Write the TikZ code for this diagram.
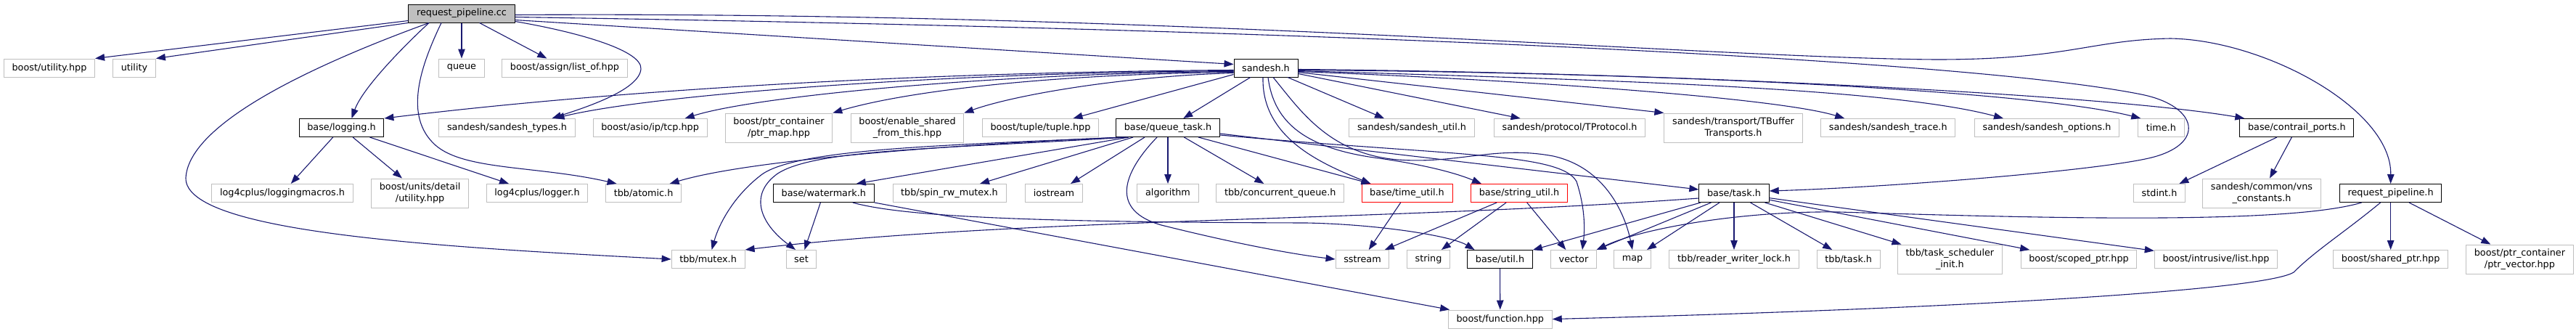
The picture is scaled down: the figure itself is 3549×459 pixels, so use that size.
\documentclass[tikz,border=0pt]{standalone}
\usepackage{fontspec}
\setmainfont{DejaVu Sans}
\usetikzlibrary{arrows.meta}
\definecolor{edgec}{RGB}{25,25,112}
\definecolor{extgray}{RGB}{191,191,191}
\definecolor{rootfill}{RGB}{191,191,191}
\definecolor{truncred}{RGB}{255,0,0}
\newcommand\dxfont{\fontsize{12.8}{16}\selectfont}
\tikzset{
  box/.style={draw=extgray, fill=white, line width=1pt, font=\dxfont, inner xsep=11.2pt, inner ysep=0pt, minimum height=25pt, align=center},
  ext/.style={box},
  doc/.style={box, draw=black},
  trunc/.style={box, draw=truncred},
  root/.style={box, draw=black, fill=rootfill},
  two/.style={minimum height=40pt},
  edge/.style={draw=edgec, line width=1.1pt, -{Triangle[length=13pt,width=9.5pt]}}
}
\begin{document}
\begin{tikzpicture}[x=1pt,y=-1pt]
\useasboundingbox (0,0) rectangle (3549,459);
% row 0
\node[root] (rpcc) at (636,18.5) {request\_pipeline.cc};
% row 1
\node[ext] (butil) at (68,93.5) {boost/utility.hpp};
\node[ext] (util) at (185,93.5) {utility};
\node[ext] (queue) at (636,93.5) {queue};
\node[ext] (listof) at (778,93.5) {boost/assign/list\_of.hpp};
\node[doc] (sandesh) at (1744,93.5) {sandesh.h};
% row 2
\node[doc] (logging) at (470.5,176) {base/logging.h};
\node[ext] (stypes) at (698.5,176) {sandesh/sandesh\_types.h};
\node[ext] (tcp) at (895.6,176) {boost/asio/ip/tcp.hpp};
\node[ext,two] (ptrmap) at (1073,176) {boost/ptr\_container\\/ptr\_map.hpp};
\node[ext,two] (esft) at (1250,176) {boost/enable\_shared\\\_from\_this.hpp};
\node[ext] (tuple) at (1433.5,176) {boost/tuple/tuple.hpp};
\node[doc] (qtask) at (1609,176) {base/queue\_task.h};
\node[ext] (sutil) at (1945,176) {sandesh/sandesh\_util.h};
\node[ext] (tproto) at (2162.6,176) {sandesh/protocol/TProtocol.h};
\node[ext,two] (tbuf) at (2388,176) {sandesh/transport/TBuffer\\Transports.h};
\node[ext] (strace) at (2601.2,176) {sandesh/sandesh\_trace.h};
\node[ext] (sopts) at (2820,176) {sandesh/sandesh\_options.h};
\node[ext] (timeh) at (2977.3,176) {time.h};
\node[doc] (cports) at (3164.3,176) {base/contrail\_ports.h};
% row 3
\node[ext] (lmacros) at (389,266) {log4cplus/loggingmacros.h};
\node[ext,two] (budetail) at (578.6,266) {boost/units/detail\\/utility.hpp};
\node[ext] (logger) at (740,266) {log4cplus/logger.h};
\node[ext] (atomic) at (886.6,266) {tbb/atomic.h};
\node[doc] (watermark) at (1134.8,266) {base/watermark.h};
\node[ext] (spinrw) at (1308,266) {tbb/spin\_rw\_mutex.h};
\node[ext] (iostream) at (1452,266) {iostream};
\node[ext] (algorithm) at (1609,266) {algorithm};
\node[ext] (cqueue) at (1763.7,266) {tbb/concurrent\_queue.h};
\node[trunc] (timeutil) at (1938.5,266) {base/time\_util.h};
\node[trunc] (strutil) at (2093,266) {base/string\_util.h};
\node[doc] (btask) at (2389,266) {base/task.h};
\node[ext] (stdint) at (2975,266) {stdint.h};
\node[ext,two] (vnsconst) at (3116,266) {sandesh/common/vns\\\_constants.h};
\node[doc] (rph) at (3293.6,266) {request\_pipeline.h};
% row 4
\node[ext] (mutex) at (975.6,357) {tbb/mutex.h};
\node[ext] (nset) at (1104,357) {set};
\node[ext] (sstream) at (1877,357) {sstream};
\node[ext] (nstring) at (1968,357) {string};
\node[doc] (butilh) at (2066.5,357) {base/util.h};
\node[ext] (nvector) at (2168,357) {vector};
\node[ext] (nmap) at (2249,357) {map};
\node[ext] (rwlock) at (2389,357) {tbb/reader\_writer\_lock.h};
\node[ext] (ttask) at (2546.7,357) {tbb/task.h};
\node[ext,two] (tsinit) at (2686.4,357) {tbb/task\_scheduler\\\_init.h};
\node[ext] (scoped) at (2864,357) {boost/scoped\_ptr.hpp};
\node[ext] (intrus) at (3053,357) {boost/intrusive/list.hpp};
\node[ext] (shptr) at (3293.6,357) {boost/shared\_ptr.hpp};
\node[ext,two] (ptrvec) at (3471.4,357) {boost/ptr\_container\\/ptr\_vector.hpp};
% row 5
\node[ext] (bfunc) at (2066.8,439.5) {boost/function.hpp};

% ---- edges from request_pipeline.cc
\draw[edge] ([yshift=-10pt]rpcc.west) -- (butil.north east);
\draw[edge] (rpcc.south west) -- (util.north east);
\draw[edge] (rpcc) -- (queue);
\draw[edge] (rpcc) -- (listof);
\draw[edge] ([xshift=-45pt]rpcc.south) .. controls (560,60) and (500,120) .. ([xshift=14pt]logging.north);
\draw[edge] ([xshift=-45pt]rpcc.south) .. controls (430,90) and (260,170) .. (256,245) .. controls (254,320) and (600,340) .. (mutex.west);
\draw[edge] ([xshift=-28pt]rpcc.south) .. controls (580,90) and (555,160) .. (600,200) .. controls (640,235) and (740,228) .. ([xshift=-37pt]atomic.north);
\draw[edge] ([yshift=2pt]rpcc.south east) .. controls (800,45) and (885,70) .. (883,95) .. controls (881,125) and (800,150) .. ([xshift=62pt]stypes.north);
\draw[edge] ([yshift=-9pt]rpcc.east) -- ([yshift=5pt]sandesh.west);
\draw[edge] ([yshift=-2pt]rpcc.east) .. controls (1600,15) and (2350,80) .. (2668,82) .. controls (2850,82) and (2880,55) .. (2990,53) .. controls (3120,55) and (3295,150) .. (rph.north);
\draw[edge] ([yshift=-5pt]rpcc.east) .. controls (1800,40) and (2700,80) .. (2950,130) .. controls (3030,146) and (3040,200) .. (2960,218) .. controls (2880,236) and (2600,258) .. ([yshift=3pt]btask.east);

% ---- edges from sandesh.h
\draw[edge] ([yshift=-3pt]sandesh.west) .. controls (1200,100) and (800,130) .. (logging.north east);
\draw[edge] ([yshift=-4pt]sandesh.west) .. controls (1300,100) and (900,130) .. ([xshift=66pt]stypes.north);
\draw[edge] ([yshift=-5pt]sandesh.west) .. controls (1400,100) and (1050,130) .. ([xshift=48pt]tcp.north);
\draw[edge] ([yshift=-6pt]sandesh.west) .. controls (1450,102) and (1250,125) .. (ptrmap.north east);
\draw[edge] ([yshift=-7pt]sandesh.west) .. controls (1550,105) and (1400,130) .. (esft.north east);
\draw[edge] ([yshift=-9pt]sandesh.west) -- ([xshift=45pt]tuple.north);
\draw[edge] (sandesh) -- (qtask);
\draw[edge] ([xshift=30pt]sandesh.south) -- ([xshift=-38pt]sutil.north);
\draw[edge] ([yshift=-8pt]sandesh.east) -- ([xshift=-68pt]tproto.north);
\draw[edge] ([yshift=-6pt]sandesh.east) -- (tbuf.north west);
\draw[edge] ([yshift=-5pt]sandesh.east) .. controls (2100,110) and (2450,135) .. ([xshift=-60pt]strace.north);
\draw[edge] ([yshift=-4pt]sandesh.east) .. controls (2200,110) and (2600,120) .. ([xshift=-60pt]sopts.north);
\draw[edge] ([yshift=-3pt]sandesh.east) .. controls (2300,100) and (2800,125) .. ([xshift=-28pt]timeh.north);
\draw[edge] ([yshift=-2pt]sandesh.east) .. controls (2300,100) and (2900,130) .. ([xshift=-72pt]cports.north);
\draw[edge] ([xshift=-4pt]sandesh.south) .. controls (1738,190) and (1820,225) .. ([xshift=-50pt]timeutil.north);
\draw[edge] ([xshift=3pt]sandesh.south) .. controls (1755,170) and (1800,205) .. (1900,218) .. controls (1970,228) and (2010,240) .. ([xshift=-52pt]strutil.north);
\draw[edge] ([xshift=10pt]sandesh.south) .. controls (1790,150) and (1830,212) .. (1926,220) .. controls (2010,226) and (2060,200) .. (2140,215) .. controls (2215,232) and (2240,300) .. (nmap.north);

% ---- edges from base/logging.h
\draw[edge] (logging) -- (lmacros);
\draw[edge] (logging) -- (budetail);
\draw[edge] (logging) -- (logger);

% ---- edges from base/queue_task.h
\draw[edge] ([xshift=10pt]qtask.south west) .. controls (1400,195) and (1050,215) .. ([xshift=36pt]atomic.north);
\draw[edge] ([xshift=12pt]qtask.south west) .. controls (1300,200) and (1100,205) .. (1050,240) .. controls (1010,270) and (990,310) .. ([xshift=5pt]mutex.north);
\draw[edge] ([xshift=16pt]qtask.south west) .. controls (1300,205) and (1120,205) .. (1070,240) .. controls (1030,270) and (1050,310) .. ([xshift=-8pt]nset.north);
\draw[edge] ([xshift=18pt]qtask.south west) -- ([xshift=45pt]watermark.north);
\draw[edge] ([xshift=24pt]qtask.south west) -- ([xshift=42pt]spinrw.north);
\draw[edge] ([xshift=40pt]qtask.south west) -- ([xshift=23pt]iostream.north);
\draw[edge] (qtask) -- (algorithm);
\draw[edge] (qtask) -- (cqueue);
\draw[edge] ([xshift=-15pt]qtask.south) .. controls (1545,240) and (1530,290) .. (1600,310) .. controls (1700,335) and (1780,350) .. (sstream.west);
\draw[edge] ([xshift=42pt]qtask.south) -- ([xshift=-50pt]timeutil.north);
\draw[edge] ([yshift=-8pt]qtask.east) -- ([yshift=5pt]btask.west);
\draw[edge] ([yshift=-10pt]qtask.east) .. controls (2000,215) and (2150,210) .. (2172,250) .. controls (2185,290) and (2183,320) .. ([xshift=12pt]nvector.north);

% ---- edges from base/watermark.h
\draw[edge] (watermark) -- (nset);
\draw[edge] (watermark) -- (bfunc);
\draw[edge] ([xshift=40pt]watermark.south) .. controls (1250,300) and (1450,306) .. (1800,307) .. controls (1900,309) and (2000,325) .. ([xshift=-35pt]butilh.north);

% ---- edges from base/time_util.h and base/string_util.h
\draw[edge] (timeutil) -- (sstream);
\draw[edge] (strutil) -- (sstream);
\draw[edge] (strutil) -- (nstring);
\draw[edge] (strutil) -- (nvector);

% ---- edges from base/task.h
\draw[edge] ([yshift=-7pt]btask.west) .. controls (1900,305) and (1400,300) .. (mutex.north east);
\draw[edge] (btask) -- (butilh);
\draw[edge] (btask) -- (nvector);
\draw[edge] (btask) -- (nmap);
\draw[edge] (btask) -- (rwlock);
\draw[edge] (btask) -- (ttask);
\draw[edge] (btask) -- (tsinit);
\draw[edge] (btask) -- (scoped);
\draw[edge] (btask) -- (intrus);

% ---- other edges
\draw[edge] (butilh) -- (bfunc);
\draw[edge] (cports) -- (stdint);
\draw[edge] (cports) -- (vnsconst);
\draw[edge] (rph) -- (shptr);
\draw[edge] (rph) -- (ptrvec);
\draw[edge] ([xshift=-40pt]rph.south) .. controls (3150,310) and (2800,300) .. (2534,292) .. controls (2400,290) and (2260,315) .. (nvector.north east);
\draw[edge] ([xshift=-14pt]rph.south) .. controls (3230,320) and (3190,345) .. (3160,375) .. controls (3120,400) and (2700,425) .. (bfunc.east);
\end{tikzpicture}
\end{document}
